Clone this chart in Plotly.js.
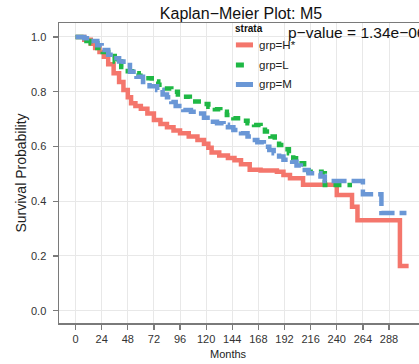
<!DOCTYPE html>
<html>
<head>
<meta charset="utf-8">
<script src="https://cdn.plot.ly/plotly-3.0.1.min.js"></script>
<style>
html,body{margin:0;padding:0;overflow:hidden;background:#fff;}
#chart{width:440px;height:364px;}
</style>
</head>
<body>
<div id="chart"></div>
<script>
// ---- data ----
const groupNames = ["grp=H*", "grp=L", "grp=M"];
const groupColors = ["#F4766C", "#1FB845", "#6A97D6"];
const groupDash = ["solid", "8px,6px", "15px,5px"];

const timeH = [0, 8, 14, 18, 22, 26, 30, 35, 40, 44, 48, 51, 55, 60, 66, 72, 78, 84, 90, 96, 104, 112, 118, 122, 125, 132, 140, 146, 152, 160, 170, 185, 191, 197, 209, 240, 254, 259, 298, 306];
const survH = [1.0, 0.99, 0.975, 0.96, 0.945, 0.928, 0.9, 0.867, 0.835, 0.806, 0.78, 0.758, 0.748, 0.738, 0.72, 0.697, 0.682, 0.67, 0.658, 0.648, 0.636, 0.624, 0.61, 0.595, 0.578, 0.567, 0.558, 0.55, 0.535, 0.515, 0.512, 0.508, 0.496, 0.484, 0.46, 0.423, 0.38, 0.33, 0.163, 0.163];

const timeL = [0, 10, 14, 20, 25, 30, 36, 42, 48, 52, 58, 64, 70, 76, 82, 88, 94, 99, 105, 110, 116, 122, 128, 133, 139, 145, 152, 158, 164, 170, 174, 179, 183, 187, 192, 196, 200, 205, 210, 214, 226, 229, 254];
const survL = [1.0, 0.985, 0.977, 0.96, 0.945, 0.93, 0.91, 0.89, 0.875, 0.867, 0.858, 0.849, 0.837, 0.825, 0.812, 0.8, 0.79, 0.782, 0.773, 0.764, 0.755, 0.745, 0.736, 0.727, 0.715, 0.703, 0.694, 0.685, 0.678, 0.672, 0.655, 0.636, 0.62, 0.605, 0.59, 0.575, 0.557, 0.539, 0.523, 0.508, 0.502, 0.459, 0.459];

const timeM = [0, 8, 14, 20, 24, 30, 35, 40, 44, 50, 56, 62, 68, 75, 80, 84, 88, 92, 99, 106, 112, 118, 124, 130, 136, 140, 145, 152, 158, 162, 167, 173, 178, 182, 187, 191, 199, 203, 207, 214, 225, 229, 264, 281, 304];
const survM = [1.0, 0.995, 0.985, 0.97, 0.952, 0.935, 0.922, 0.91, 0.898, 0.873, 0.855, 0.835, 0.82, 0.806, 0.79, 0.78, 0.762, 0.748, 0.733, 0.727, 0.72, 0.705, 0.69, 0.685, 0.679, 0.67, 0.66, 0.648, 0.636, 0.624, 0.615, 0.599, 0.587, 0.575, 0.563, 0.551, 0.544, 0.53, 0.514, 0.502, 0.49, 0.474, 0.425, 0.357, 0.357];

const xTicks = [0, 24, 48, 72, 96, 120, 144, 168, 192, 216, 240, 264, 288];
const yTicks = [0.0, 0.2, 0.4, 0.6, 0.8, 1.0];
const pValueText = "p\u2212value = 1.34e\u221206";
const titleText = "Kaplan\u2212Meier Plot: M5";
const xTitleText = "Months";
const yTitleText = "Survival Probability";
const legendTitleText = "strata";

// ---- build ----
const times = [timeH, timeL, timeM];
const survs = [survH, survL, survM];
const traces = groupNames.map((n, i) => ({
  type: "scatter", mode: "lines", name: n,
  x: times[i], y: survs[i],
  line: {shape: "hv", color: groupColors[i], width: 4.5, dash: groupDash[i]},
  showlegend: false, hoverinfo: "skip"
}));

const font = "Liberation Sans, Arial, sans-serif";
const shapes = [];
const annotations = [];
// manual legend
const legX0 = 0.486, legX1 = 0.533, legTextX = 0.543;
const legY = [0.927, 0.86, 0.795];
annotations.push({xref: "paper", yref: "paper", x: 0.478, y: 0.981, xanchor: "left", yanchor: "middle",
  text: "<b>" + legendTitleText + "</b>", showarrow: false, font: {family: font, size: 10, color: "#111"}});
groupNames.forEach((n, i) => {
  shapes.push({type: "line", xref: "paper", yref: "paper", x0: legX0, x1: legX1, y0: legY[i], y1: legY[i],
    line: {color: groupColors[i], width: 5, dash: i === 1 ? "8px,20px" : "solid"}});
  annotations.push({xref: "paper", yref: "paper", x: legTextX, y: legY[i], xanchor: "left", yanchor: "middle",
    text: n, showarrow: false, font: {family: font, size: 11.5, color: "#222"}});
});
annotations.push({xref: "paper", yref: "paper", x: 0.624, y: 0.970, xanchor: "left", yanchor: "middle",
  text: pValueText, showarrow: false, font: {family: font, size: 15.5, color: "#111"}});
annotations.push({xref: "paper", yref: "paper", x: 0.467, y: 0, yshift: -31, xanchor: "center", yanchor: "middle",
  text: xTitleText, showarrow: false, font: {family: font, size: 11, color: "#222"}});

const axisCommon = {
  showline: true, mirror: true, linecolor: "#7a7a7a", linewidth: 1.5,
  ticks: "outside", ticklen: 5, tickcolor: "#7a7a7a", tickwidth: 1.2,
  gridcolor: "#e8e8e8", gridwidth: 1, zeroline: false,
  tickfont: {family: font, size: 11, color: "#333"}
};

const layout = {
  width: 440, height: 364,
  margin: {l: 59, r: 17, t: 23, b: 41},
  paper_bgcolor: "#fff", plot_bgcolor: "#fff",
  title: {text: titleText, font: {family: font, size: 16, color: "#111"}, x: 0.5, xref: "paper", y: 0.962, yanchor: "middle"},
  xaxis: Object.assign({}, axisCommon, {
    range: [-15.2, 319.2], tickvals: xTicks, ticktext: xTicks.map(String)
  }),
  yaxis: Object.assign({}, axisCommon, {
    range: [-0.045, 1.051], tickvals: yTicks, ticktext: yTicks.map(v => v.toFixed(1)),
    ticklabelstandoff: 4,
    title: {text: yTitleText, font: {family: font, size: 14, color: "#222"}, standoff: 1}
  }),
  shapes: shapes, annotations: annotations, showlegend: false
};

Plotly.newPlot("chart", traces, layout, {displayModeBar: false, staticPlot: true});
</script>
</body>
</html>
